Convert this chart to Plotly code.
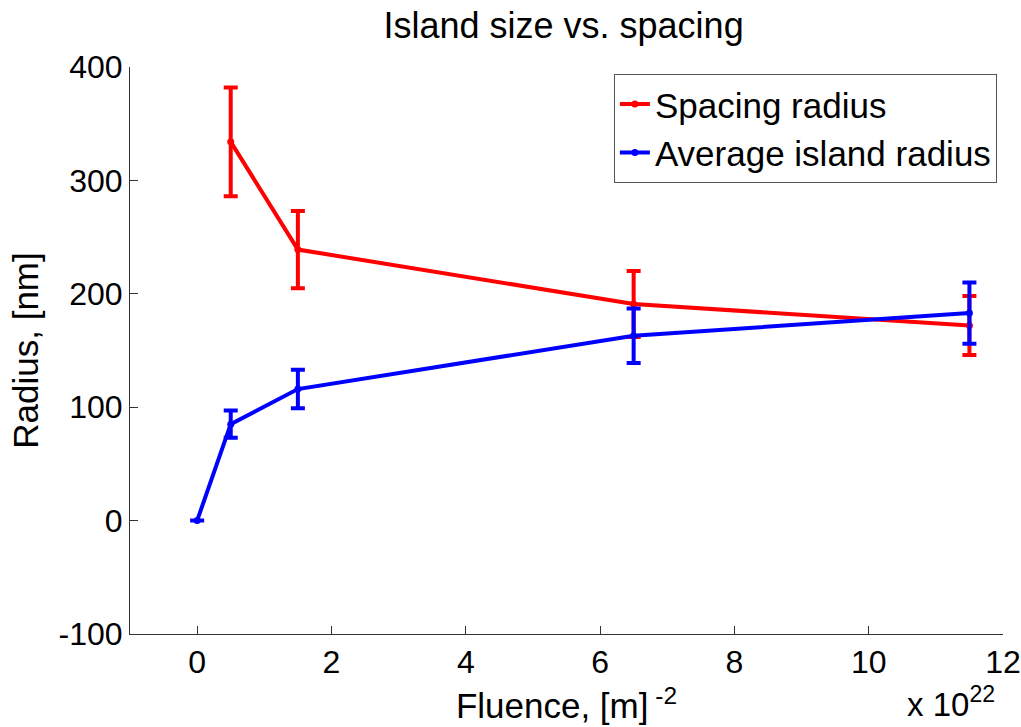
import plotly.graph_objects as go

fluence_spacing = [0.5, 1.5, 6.5, 11.5]
spacing_radius = [334, 239, 191, 172]
spacing_err = [48, 34, 29, 26]

fluence_island = [0, 0.5, 1.5, 6.5, 11.5]
island_radius = [0, 85, 116, 163, 183]
island_err = [0, 12, 17, 24, 27]

x_ticks = [0, 2, 4, 6, 8, 10, 12]
y_ticks = [-100, 0, 100, 200, 300, 400]
y_tick_labels = ["-100", "0", "100", "200", "300", "400"]

FONT = "Liberation Sans"

fig = go.Figure()
fig.add_trace(go.Scatter(
    x=fluence_spacing, y=spacing_radius, name="Spacing radius",
    mode="lines+markers",
    line=dict(color="#ff0000", width=4),
    marker=dict(color="#ff0000", size=7),
    error_y=dict(type="data", array=spacing_err, visible=True,
                 color="#ff0000", thickness=4, width=7),
))
fig.add_trace(go.Scatter(
    x=fluence_island, y=island_radius, name="Average island radius",
    mode="lines+markers",
    line=dict(color="#0000ff", width=4),
    marker=dict(color="#0000ff", size=7),
    error_y=dict(type="data", array=island_err, visible=True,
                 color="#0000ff", thickness=4, width=7),
))

fig.update_layout(
    width=1021, height=727,
    paper_bgcolor="white", plot_bgcolor="white",
    margin=dict(l=130, r=18, t=67, b=93, autoexpand=False),
    font=dict(family=FONT, color="black", size=35),
    title=dict(text="Island size vs. spacing", x=0.552, xanchor="center",
               y=0.965, yanchor="middle", font=dict(size=36)),
    showlegend=True,
    legend=dict(x=0.993, xanchor="right", y=0.988, yanchor="top",
                bordercolor="#555555", borderwidth=1, bgcolor="white",
                font=dict(size=35), tracegroupgap=0, itemwidth=30),
    xaxis=dict(range=[-1, 12], tickvals=x_ticks, showgrid=False, zeroline=False,
               showline=True, linecolor="#333333", linewidth=1,
               ticks="inside", ticklen=8, tickcolor="#333333",
               tickfont=dict(size=32), automargin=False,
               title=dict(text="Fluence, [m]<sup> -2</sup>", standoff=14,
                          font=dict(size=35))),
    yaxis=dict(range=[-100, 400], tickvals=y_ticks, ticktext=y_tick_labels,
               showgrid=False, zeroline=False,
               showline=True, linecolor="#333333", linewidth=1,
               ticks="inside", ticklen=8, tickcolor="#333333",
               tickfont=dict(size=32), automargin=False,
               title=dict(text="Radius, [nm]", standoff=9, font=dict(size=35))),
)
fig.add_annotation(text="x 10<sup>22</sup>", xref="paper", yref="paper",
                   x=0.993, xanchor="right", y=-0.079, yanchor="top",
                   showarrow=False, font=dict(size=33))

fig.write_html(
    "out.html",
    config={"displayModeBar": False},
    post_script="document.body.style.margin='0';"
                "document.documentElement.style.overflow='hidden';",
)
